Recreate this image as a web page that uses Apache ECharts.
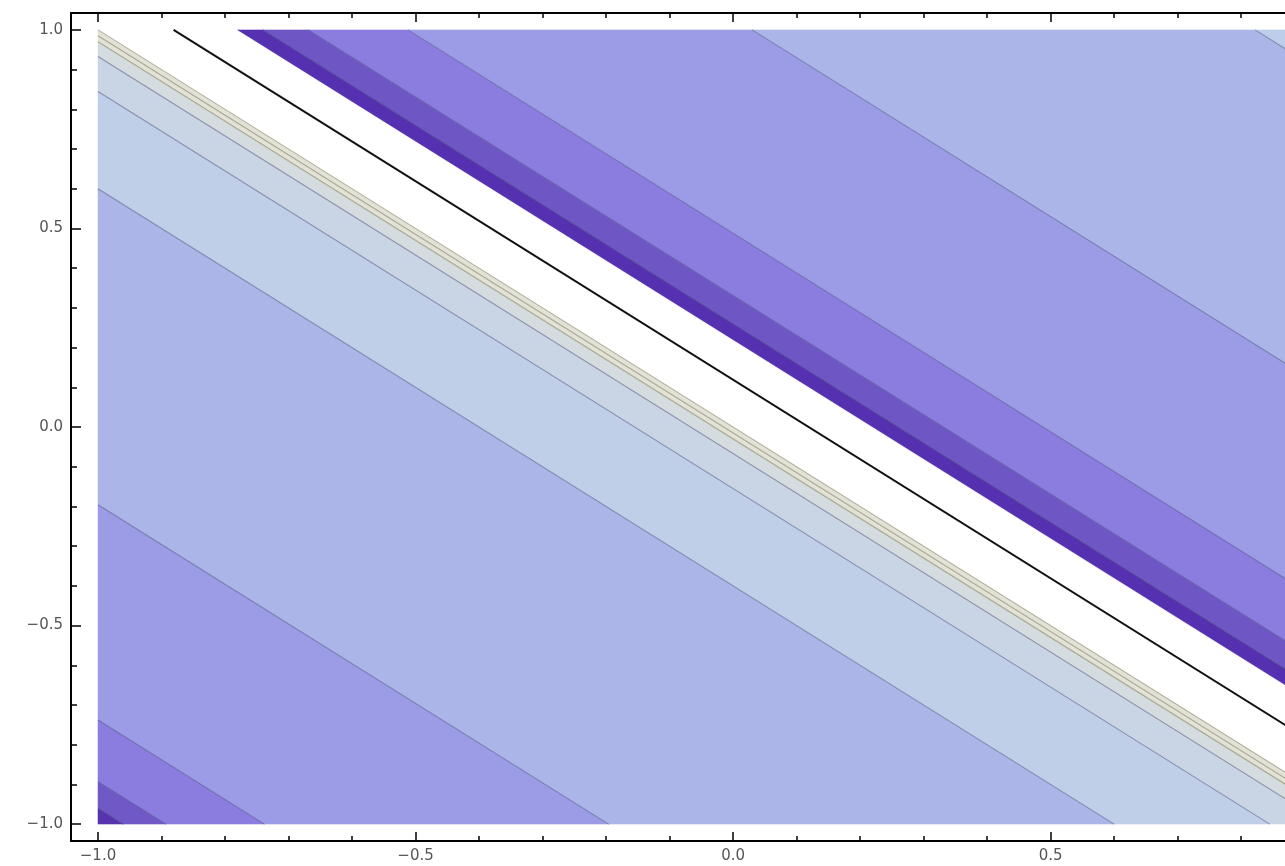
<!DOCTYPE html>
<html>
<head>
<meta charset="utf-8">
<script src="https://cdn.jsdelivr.net/npm/echarts@6/dist/echarts.min.js"></script>
<style>
html,body{margin:0;padding:0;background:#ffffff;}
#chart{width:1285px;height:866px;}
</style>
</head>
<body>
<div id="chart"></div>
<script>
// Filled contour bands of a function of s = x + y
const bandLower = [-9, -1.96, -1.893, -1.738, -1.196, -0.40, -0.155, -0.067, -0.03, 0.0, 0.22, 0.26, 0.331, 0.488, 1.03, 1.822];
const bandUpper = [-1.96, -1.893, -1.738, -1.196, -0.40, -0.155, -0.067, -0.03, 0.0, 0.22, 0.26, 0.331, 0.488, 1.03, 1.822, 9];
const bandColors = ['#5733b0', '#7058c6', '#8b7ddf', '#9c9be6', '#abb5e7', '#bfcfe8', '#c9d5e5', '#d5dce0', '#e2e2d6', '#ffffff',
                    '#5530b0', '#6f56c5', '#8b7ddf', '#9c9be6', '#abb5e7', '#bccee9'];
// contour line levels (s = x + y)
const contourLevels = [-1.96, -1.893, -1.738, -1.196, -0.40, -0.155, -0.067, -0.03, -0.015, 0.0, 0.26, 0.331, 0.488, 1.03, 1.822];
const contourKinds  = ['g', 'g', 'g', 'g', 'g', 'g', 'g', 'b', 'b', 'b', 'g', 'g', 'g', 'g', 'g'];
const blackLevels = [0.119];
// ticks
const majorTicks = [-1, -0.5, 0, 0.5, 1];
const majorTickLabels = ['\u22121.0', '\u22120.5', '0.0', '0.5', '1.0'];
const minorTicks = [-0.9, -0.8, -0.7, -0.6, -0.4, -0.3, -0.2, -0.1, 0.1, 0.2, 0.3, 0.4, 0.6, 0.7, 0.8, 0.9];

// frame range (with padding); the picture is cut on the right at x ≈ 0.869
const Y_MIN = -1.0425, Y_MAX = 1.0425;
const X_MIN = -1.0425, X_MAX = 0.869;

function clipHalf(poly, f) {
  const out = [];
  for (let i = 0; i < poly.length; i++) {
    const a = poly[i], b = poly[(i + 1) % poly.length];
    const fa = f(a), fb = f(b);
    if (fa >= 0) out.push(a);
    if ((fa >= 0) !== (fb >= 0)) {
      const t = fa / (fa - fb);
      out.push([a[0] + t * (b[0] - a[0]), a[1] + t * (b[1] - a[1])]);
    }
  }
  return out;
}
function stripPolygon(lo, hi) {
  let poly = [[-1, -1], [1, -1], [1, 1], [-1, 1]];
  poly = clipHalf(poly, p => p[0] + p[1] - lo);
  poly = clipHalf(poly, p => hi - (p[0] + p[1]));
  return poly;
}
function levelSegment(s) {
  const x1 = Math.max(-1, s - 1), x2 = Math.min(1, s + 1);
  if (x1 >= x2) return null;
  return [[x1, s - x1], [x2, s - x2]];
}
function labelFor(v) {
  const i = majorTicks.findIndex(t => Math.abs(t - v) < 1e-9);
  return i >= 0 ? majorTickLabels[i] : '';
}

const labelStyle = { color: '#555', fontFamily: 'DejaVu Sans', fontSize: 15 };

function makeAxis(position, min, max, ticks, len, withLabels, lineShown) {
  const inRange = ticks.filter(v => v >= min && v <= max);
  return {
    type: 'value', position: position, min: min, max: max,
    axisLine: { show: lineShown, onZero: false, lineStyle: { color: '#000', width: 2 } },
    axisTick: { show: true, inside: true, length: len, customValues: inRange, lineStyle: { color: '#000', width: 1.5 } },
    axisLabel: withLabels ? Object.assign({ show: true, customValues: majorTicks.filter(v => v >= min && v <= max), formatter: labelFor, margin: 8, hideOverlap: false }, labelStyle) : { show: false },
    splitLine: { show: false }
  };
}

const chart = echarts.init(document.getElementById('chart'), null, { renderer: 'canvas' });
chart.setOption({
  animation: false,
  backgroundColor: '#ffffff',
  grid: { left: 71, top: 13, right: 0, bottom: 25, containLabel: false, outerBoundsMode: 'none' },
  xAxis: [
    makeAxis('bottom', X_MIN, X_MAX, majorTicks, 9, true, true),
    makeAxis('bottom', X_MIN, X_MAX, minorTicks, 5, false, false),
    makeAxis('top', X_MIN, X_MAX, majorTicks, 9, false, true),
    makeAxis('top', X_MIN, X_MAX, minorTicks, 5, false, false)
  ],
  yAxis: [
    makeAxis('left', Y_MIN, Y_MAX, majorTicks, 10, true, true),
    makeAxis('left', Y_MIN, Y_MAX, minorTicks, 6, false, false)
  ],
  series: [
    {
      type: 'custom', name: 'bands', xAxisIndex: 0, yAxisIndex: 0, clip: true, z: 2,
      data: bandLower.map((_, i) => [i]),
      renderItem: function (params, api) {
        const i = api.value(0);
        const poly = stripPolygon(bandLower[i], bandUpper[i]);
        if (poly.length < 3) return null;
        return { type: 'polygon', shape: { points: poly.map(p => api.coord(p)) },
                 style: { fill: bandColors[i], stroke: bandColors[i], lineWidth: 0.5 } };
      }
    },
    {
      type: 'custom', name: 'contours', xAxisIndex: 0, yAxisIndex: 0, clip: true, z: 3,
      data: contourLevels.map((_, i) => [i]),
      renderItem: function (params, api) {
        const i = api.value(0);
        const seg = levelSegment(contourLevels[i]);
        if (!seg) return null;
        const a = api.coord(seg[0]), b = api.coord(seg[1]);
        const beige = contourKinds[i] === 'b';
        return { type: 'line', shape: { x1: a[0], y1: a[1], x2: b[0], y2: b[1] },
                 style: { stroke: beige ? 'rgba(150,148,120,0.75)' : 'rgba(70,72,120,0.5)', lineWidth: 1.1 } };
      }
    },
    {
      type: 'custom', name: 'black', xAxisIndex: 0, yAxisIndex: 0, clip: true, z: 4,
      data: blackLevels.map((_, i) => [i]),
      renderItem: function (params, api) {
        const seg = levelSegment(blackLevels[api.value(0)]);
        if (!seg) return null;
        const a = api.coord(seg[0]), b = api.coord(seg[1]);
        return { type: 'line', shape: { x1: a[0], y1: a[1], x2: b[0], y2: b[1] },
                 style: { stroke: '#111', lineWidth: 2 } };
      }
    }
  ]
});
</script>
</body>
</html>
